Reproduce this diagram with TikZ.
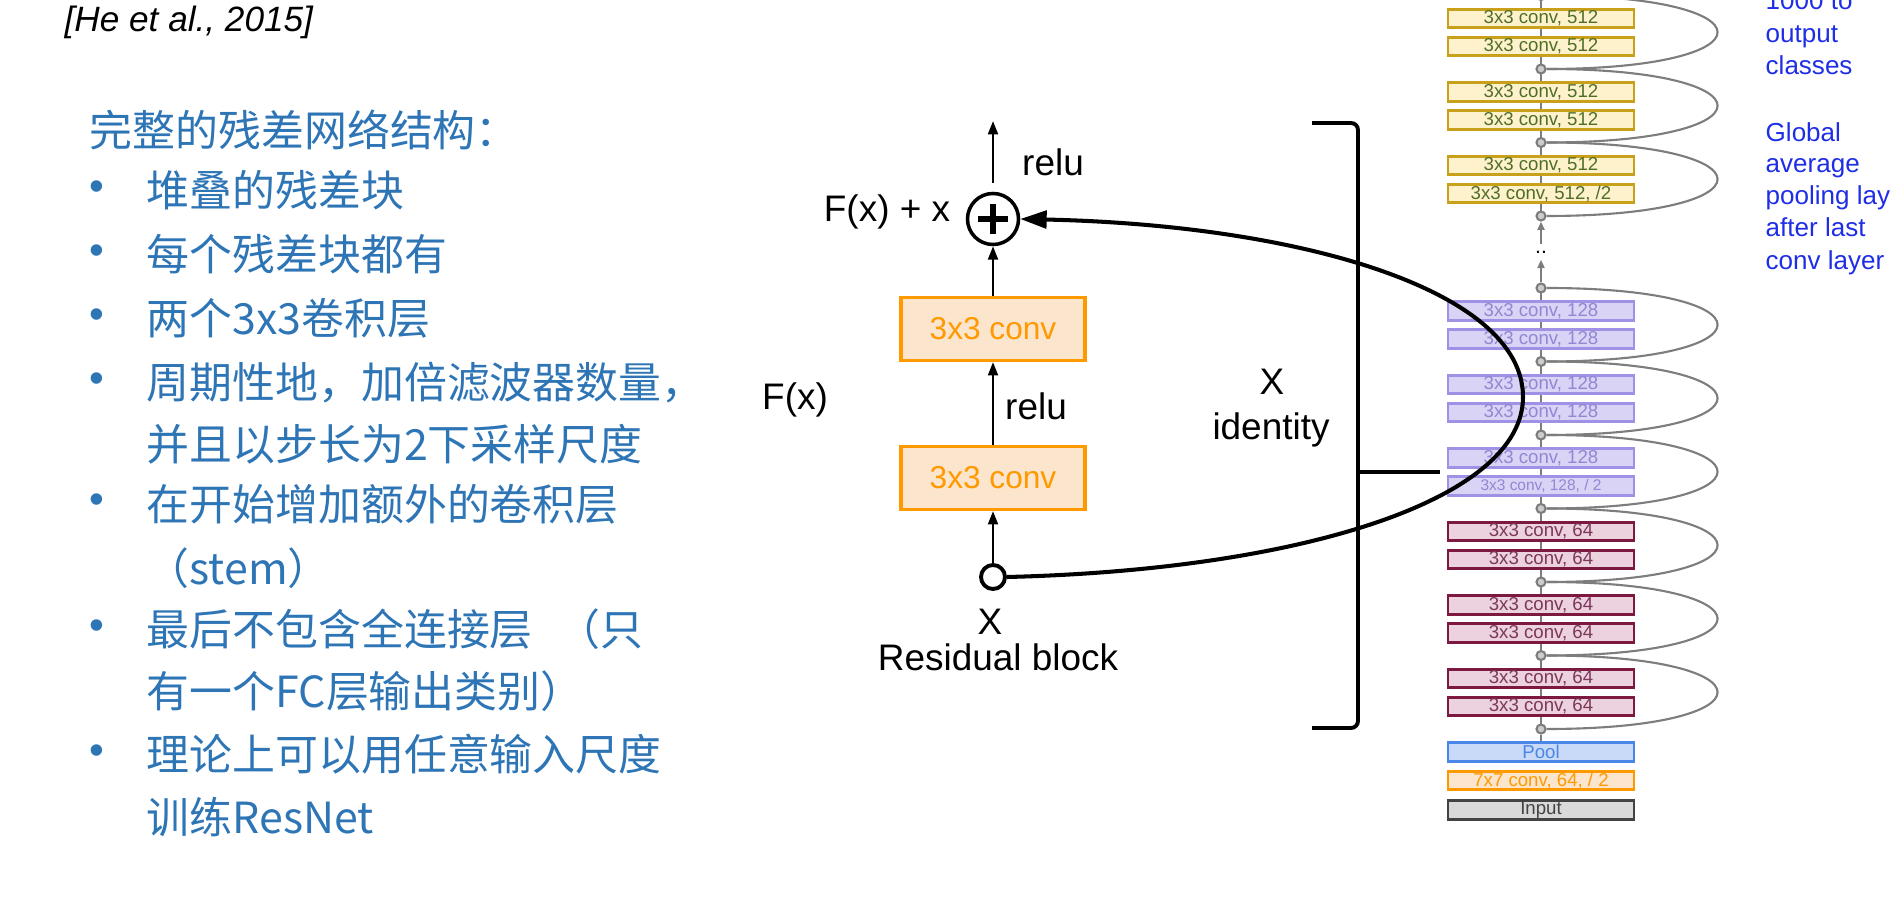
\documentclass[tikz,border=0pt]{standalone}
\usepackage{fontspec}
\setmainfont{Liberation Sans}
\newfontfamily\cjk{Noto Sans CJK SC}
\usetikzlibrary{arrows.meta,positioning,backgrounds}

\definecolor{txtblue}{RGB}{46,117,182}
\definecolor{noteblue}{RGB}{30,45,230}
\definecolor{convorange}{RGB}{255,153,0}
\definecolor{convfill}{RGB}{252,229,205}
\definecolor{ylwdraw}{RGB}{200,160,25}
\definecolor{ylwfill}{RGB}{254,242,204}
\definecolor{ylwtext}{RGB}{80,110,40}
\definecolor{purdraw}{RGB}{160,145,230}
\definecolor{purfill}{RGB}{217,212,245}
\definecolor{purtext}{RGB}{145,135,210}
\definecolor{reddraw}{RGB}{125,25,65}
\definecolor{redfill}{RGB}{235,210,222}
\definecolor{redtext}{RGB}{125,55,90}
\definecolor{pooldraw}{RGB}{74,134,232}
\definecolor{poolfill}{RGB}{201,218,248}
\definecolor{inpdraw}{RGB}{67,67,67}
\definecolor{inpfill}{RGB}{217,217,217}
\definecolor{netgray}{RGB}{125,125,125}

\begin{document}
\begin{tikzpicture}[
  x=0.01cm, y=-0.01cm,
  >=Stealth,
  cjkline/.style={anchor=base west, inner sep=0pt, text=txtblue,
                  font=\cjk\fontsize{12.2}{14}\selectfont},
  dot/.style={inner sep=0pt, text=txtblue, font=\fontsize{12}{14}\selectfont},
  note/.style={anchor=base west, inner sep=0pt, text=noteblue,
               font=\fontsize{7.4}{9}\selectfont},
  lbl/.style={inner sep=0pt, font=\fontsize{10.5}{12}\selectfont},
  resconv/.style={draw=convorange, fill=convfill, line width=0.9pt,
                  minimum width=1.84cm, minimum height=0.63cm, inner sep=0pt,
                  text=convorange, font=\fontsize{9}{11}\selectfont},
  sumnode/.style={draw, circle, line width=1pt, minimum size=0.51cm, inner sep=0pt,
                  path picture={\draw[line width=1.5pt]
                    ([xshift=-4.2pt]path picture bounding box.center) --
                    ([xshift=4.2pt]path picture bounding box.center)
                    ([yshift=-4.2pt]path picture bounding box.center) --
                    ([yshift=4.2pt]path picture bounding box.center);}},
  innode/.style={draw, circle, line width=1.1pt, minimum size=0.24cm,
                 inner sep=0pt, fill=white},
  varr/.style={-{Triangle[length=3.8pt,width=2.8pt]}, line width=0.7pt},
  skiparr/.style={-{Triangle[length=7.5pt,width=5pt]}, line width=1.15pt},
  netbox/.style={draw, line width=0.8pt, minimum width=1.86cm,
                 minimum height=0.185cm, inner sep=0pt,
                 font=\fontsize{5.3}{6}\selectfont},
  yconv/.style={netbox, draw=ylwdraw, fill=ylwfill, text=ylwtext},
  pconv/.style={netbox, draw=purdraw, fill=purfill, text=purtext},
  rconv/.style={netbox, draw=reddraw, fill=redfill, text=redtext},
  addpt/.style={draw=netgray, fill=black!20, circle, line width=0.6pt,
                minimum size=0.09cm, inner sep=0pt},
  netline/.style={draw=netgray, line width=0.6pt},
  shortcut/.style={draw=netgray, line width=0.6pt},
  garr/.style={-{Triangle[length=2.4pt,width=2pt]}, draw=netgray, line width=0.6pt}]

\useasboundingbox (0,0) rectangle (1894,922);
\clip (0,0) rectangle (1894,922);

% Left: citation and bullet list
\node[anchor=base west, inner sep=0pt, font=\itshape\fontsize{10}{12}\selectfont]
  (cite) at (64,32) {[He et al., 2015]};
\node[cjkline] (title) at (89,147) {完整的残差网络结构：};
\foreach \i/\yy/\txt in {1/207/堆叠的残差块, 2/271/每个残差块都有,
    3/335/两个3x3卷积层, 4/399/周期性地，加倍滤波器数量，,
    5/461/并且以步长为2下采样尺度, 6/521/在开始增加额外的卷积层,
    7/585/（stem）, 8/646/最后不包含全连接层\hspace{7pt}（只,
    9/708/有一个FC层输出类别）, 10/771/理论上可以用任意输入尺度,
    11/833/训练ResNet}
  \node[cjkline] (l\i) at (146,\yy) {\txt};
\foreach \i/\yy in {1/191, 2/255, 3/319, 4/383, 6/504, 8/630, 10/755}
  \node[dot] (d\i) at (97,\yy) {\textbullet};

% Middle: residual block
\node[sumnode]            (sum)   at (993,219) {};
\node[resconv]            (conv2) at (993,329) {3x3 conv};
\node[resconv]            (conv1) at (993,478) {3x3 conv};
\node[innode]             (xin)   at (993,577) {};
\coordinate               (out)   at (993,121);
\coordinate               (apex)  at (1523,397);

\node[lbl] (relutop) at (1053,162) {relu};
\node[lbl] (relumid) at (1036,406) {relu};
\node[lbl] (sumlbl)  at (887,212)  {F(x) + x};
\node[lbl] (flbl)    at (795,400)  {F(x)};
\node[lbl] (xlbl)    at (990,622)  {X};
\node[lbl] (blocklbl) at (998,657) {Residual block};
\node[lbl] (idx)     at (1272,382) {X};
\node[lbl] (idlbl)   at (1271,430) {identity};

\draw[varr] (xin) -- (conv1);
\draw[varr] (conv1) -- (conv2);
\draw[varr] (conv2) -- (sum);
\draw[varr, shorten <=2.5pt] (sum) -- (out);

% bracket over the stack
\coordinate (brtop) at (1312,123);
\coordinate (brbot) at (1312,728);
\coordinate (brmid) at (1358,472);
\coordinate (brend) at (1440,472);
\draw[line width=1.1pt, rounded corners=2pt] (brtop) -- (1358,123) -- (1358,728) -- (brbot);
\draw[line width=1.1pt] (brmid) -- (brend);

% Right: full network column (joins from the top down)
\foreach \n/\yy in {0/-4.5, 1/69, 2/142.5, 3/216, 4/288, 5/361.5,
                    6/435, 7/508.5, 8/582, 9/655.5, 10/729}
  \node[addpt] (j\n) at (1541,\yy) {};

\node[yconv] (y1) at (1541,18.5)  {3x3 conv, 512};
\node[yconv] (y2) at (1541,46.5)  {3x3 conv, 512};
\node[yconv] (y3) at (1541,92)    {3x3 conv, 512};
\node[yconv] (y4) at (1541,120)   {3x3 conv, 512};
\node[yconv] (y5) at (1541,165.5) {3x3 conv, 512};
\node[yconv] (y6) at (1541,193.5) {3x3 conv, 512, /2};

\node[pconv] (p1) at (1541,311)   {3x3 conv, 128};
\node[pconv] (p2) at (1541,339)   {3x3 conv, 128};
\node[pconv] (p3) at (1541,384.5) {3x3 conv, 128};
\node[pconv] (p4) at (1541,412.5) {3x3 conv, 128};
\node[pconv] (p5) at (1541,458)   {3x3 conv, 128};
\node[pconv, font=\fontsize{4.4}{5}\selectfont] (p6) at (1541,486) {3x3 conv, 128, / 2};

\node[rconv] (r1) at (1541,531.5) {3x3 conv, 64};
\node[rconv] (r2) at (1541,559.5) {3x3 conv, 64};
\node[rconv] (r3) at (1541,605)   {3x3 conv, 64};
\node[rconv] (r4) at (1541,633)   {3x3 conv, 64};
\node[rconv] (r5) at (1541,678.5) {3x3 conv, 64};
\node[rconv] (r6) at (1541,706.5) {3x3 conv, 64};

\node[netbox, draw=pooldraw, fill=poolfill, text=pooldraw] (pool)  at (1541,752)   {Pool};
\node[netbox, draw=convorange, fill=convfill, text=convorange] (stem) at (1541,780.5) {7x7 conv, 64, / 2};
\node[netbox, draw=inpdraw, fill=inpfill, text=inpdraw] (input) at (1541,810) {Input};

\node[inner sep=0pt, minimum height=0.14cm, font=\fontsize{6}{6}\selectfont] (gap) at (1541,252) {..};

\begin{scope}[on background layer]
  \draw[netline] (j0.center) -- (j3.center);
  \draw[netline] (j4.center) -- (j10.center);
  \draw[netline] (j10) -- (pool);
\end{scope}
\draw[garr] (j4) -- (gap);
\draw[garr] (gap) -- (j3);

\foreach \a/\b in {0/1, 1/2, 2/3, 4/5, 5/6, 6/7, 7/8, 8/9, 9/10}
  \draw[shortcut] (j\b.east) .. controls +(228,0) and +(228,0) .. (j\a.east);

% identity shortcut round the stack, over the column
\draw[skiparr] (xin.east) .. controls (1300,570) and (1523,500) .. (apex)
  .. controls (1523,290) and (1300,225) .. (sum.east);

% notes
\foreach \i/\yy/\txt in {1/10/1000 to, 2/43/output, 3/75/classes,
    4/142/Global, 5/173/average, 6/205/pooling lay, 7/237/after last,
    8/270/conv layer}
  \node[note] (n\i) at (1765,\yy) {\txt};
\end{tikzpicture}
\end{document}
